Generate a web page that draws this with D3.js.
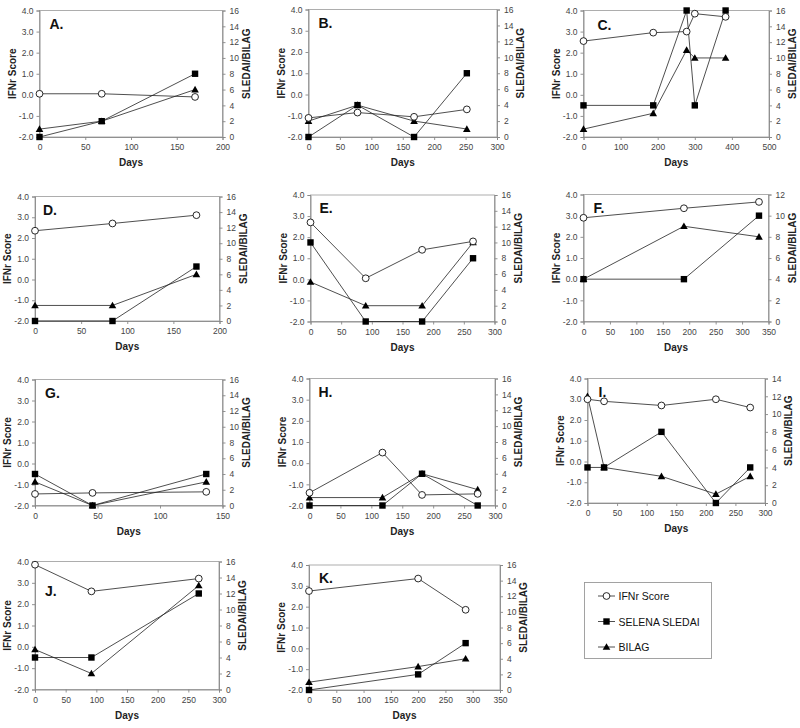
<!DOCTYPE html>
<html>
<head>
<meta charset="utf-8">
<script src="https://cdn.jsdelivr.net/npm/d3@7"></script>
<style>
  body { margin: 0; background: #fff; }
  svg { display: block; font-family: Arial, "Liberation Sans", sans-serif; }
</style>
</head>
<body>
<svg id="chart" width="800" height="728"></svg>
<script>
// ---- Data ----
const panelLetters = ["A.", "B.", "C.", "D.", "E.", "F.", "G.", "H.", "I.", "J.", "K."];
const seriesNames = ["IFNr Score", "SELENA SLEDAI", "BILAG"];

const daysA = [0, 68, 170];
const ifnA = [0.05, 0.05, -0.1];
const sledaiA = [0, 2, 8];
const bilagA = [1, 2, 6];

const daysB = [0, 78, 168, 252];
const ifnB = [-1.1, -0.85, -1.05, -0.7];
const sledaiB = [0, 4, 0, 8];
const bilagB = [2, 4, 2, 1];

const daysC = [0, 188, 278, 300, 383];
const ifnC = [2.55, 2.95, 3.0, 3.85, 3.7];
const sledaiC = [4, 4, 16, 4, 16];
const bilagC = [1, 3, 11, 10, 10];

const daysD = [0, 84, 175];
const ifnD = [2.35, 2.7, 3.1];
const sledaiD = [0, 0, 7];
const bilagD = [2, 2, 6];

const daysE = [0, 90, 182, 265];
const ifnE = [2.7, 0.05, 1.4, 1.8];
const sledaiE = [10, 0, 0, 8];
const bilagE = [5, 2, 2, 10];

const daysF = [0, 190, 332];
const ifnF = [2.9, 3.35, 3.65];
const sledaiF = [4, 4, 10];
const bilagF = [4, 9, 8];

const daysG = [0, 46, 137];
const ifnG = [-1.45, -1.4, -1.35];
const sledaiG = [4, 0, 4];
const bilagG = [3, 0, 3];

const daysH = [0, 118, 182, 272];
const ifnH = [-1.4, 0.5, -1.5, -1.45];
const sledaiH = [0, 0, 4, 0];
const bilagH = [1, 1, 4, 2];

const daysI = [0, 28, 125, 217, 275];
const ifnI = [3.0, 2.9, 2.7, 3.0, 2.6];
const sledaiI = [4, 4, 8, 0, 4];
const bilagI = [12, 4, 3, 1, 3];

const daysJ = [0, 92, 267];
const ifnJ = [3.85, 2.6, 3.2];
const sledaiJ = [4, 4, 12];
const bilagJ = [5, 2, 13];

const daysK = [0, 200, 287];
const ifnK = [2.75, 3.35, 1.85];
const sledaiK = [0, 2, 6];
const bilagK = [1, 3, 4];

// axis extents per panel
const xMaxes = [200, 300, 500, 200, 300, 350, 150, 300, 300, 300, 350];
const xSteps = [50, 50, 100, 50, 50, 50, 50, 50, 50, 50, 50];
const rightMaxes = [16, 16, 16, 16, 16, 12, 16, 16, 14, 16, 16];
const leftTicks = [-2, -1, 0, 1, 2, 3, 4];

const panelData = [
  [daysA, ifnA, sledaiA, bilagA],
  [daysB, ifnB, sledaiB, bilagB],
  [daysC, ifnC, sledaiC, bilagC],
  [daysD, ifnD, sledaiD, bilagD],
  [daysE, ifnE, sledaiE, bilagE],
  [daysF, ifnF, sledaiF, bilagF],
  [daysG, ifnG, sledaiG, bilagG],
  [daysH, ifnH, sledaiH, bilagH],
  [daysI, ifnI, sledaiI, bilagI],
  [daysJ, ifnJ, sledaiJ, bilagJ],
  [daysK, ifnK, sledaiK, bilagK]
];

// ---- Layout (plot boxes: x0, x1, y0(top), y1(bottom)) ----
const boxes = [
  [39.5, 222.5, 10.5, 137],
  [308.5, 497, 9.5, 137],
  [583.5, 769, 10.5, 137],
  [35, 219.5, 196.5, 321],
  [310.5, 494.5, 195, 321.5],
  [583.5, 768.5, 194.5, 321.5],
  [35, 222.5, 379.5, 505.5],
  [309.5, 495, 378.5, 505.5],
  [587.5, 765, 378.5, 503],
  [35, 219, 561.5, 689.5],
  [309, 500, 565, 690]
];
// panel letter offsets from the box's top-left corner
const letterOffsets = [
  [10, 18], [10, 18], [14, 19], [8, 18], [9, 18], [10, 18],
  [10, 18], [9, 18], [11, 18], [10, 34], [10, 18]
];

const svg = d3.select("#chart");
const lineColor = "#222";
const axisColor = "#888";
const tickTextColor = "#444";

function drawMarker(g, type, cx, cy) {
  if (type === 0) {
    g.append("circle").attr("cx", cx).attr("cy", cy).attr("r", 3.4)
      .attr("fill", "#fff").attr("stroke", "#111").attr("stroke-width", 0.9);
  } else if (type === 1) {
    g.append("rect").attr("x", cx - 3.2).attr("y", cy - 3.2).attr("width", 6.4).attr("height", 6.4)
      .attr("fill", "#000");
  } else {
    const s = 3.8;
    g.append("path")
      .attr("d", `M${cx},${cy - s} L${cx + s},${cy + s * 0.75} L${cx - s},${cy + s * 0.75} Z`)
      .attr("fill", "#000");
  }
}

panelData.forEach((pd, i) => {
  const [x0, x1, y0, y1] = boxes[i];
  const [days, ifn, sled, bil] = pd;
  const x = d3.scaleLinear().domain([0, xMaxes[i]]).range([x0, x1]);
  const yL = d3.scaleLinear().domain([-2, 4]).range([y1, y0]);
  const yR = d3.scaleLinear().domain([0, rightMaxes[i]]).range([y1, y0]);
  const g = svg.append("g");

  // frame
  g.append("rect").attr("x", x0).attr("y", y0).attr("width", x1 - x0).attr("height", y1 - y0)
    .attr("fill", "none").attr("stroke", "#999").attr("stroke-width", 0.8);

  // left axis
  const la = g.append("g").attr("transform", `translate(${x0},0)`)
    .call(d3.axisLeft(yL).tickValues(leftTicks).tickSize(3).tickPadding(3).tickFormat(v => v.toFixed(1)));
  // right axis
  const rTicks = d3.range(0, rightMaxes[i] + 1, 2);
  const ra = g.append("g").attr("transform", `translate(${x1},0)`)
    .call(d3.axisRight(yR).tickValues(rTicks).tickSize(3).tickPadding(4).tickFormat(d3.format("d")));
  // bottom axis
  const xTicks = d3.range(0, xMaxes[i] + 1, xSteps[i]);
  const ba = g.append("g").attr("transform", `translate(0,${y1})`)
    .call(d3.axisBottom(x).tickValues(xTicks).tickSize(3).tickPadding(4).tickFormat(d3.format("d")));

  [la, ra, ba].forEach(a => {
    a.select(".domain").attr("stroke", axisColor).attr("stroke-width", 0.9);
    a.selectAll(".tick line").attr("stroke", axisColor).attr("stroke-width", 0.9);
    a.selectAll(".tick text").attr("fill", tickTextColor).attr("font-size", 8.5)
      .attr("font-family", "Arial, 'Liberation Sans', sans-serif");
  });

  // axis titles
  g.append("text").attr("x", (x0 + x1) / 2).attr("y", y1 + 29).attr("text-anchor", "middle")
    .attr("font-size", 10).attr("font-weight", "bold").attr("fill", "#222").text("Days");
  g.append("text")
    .attr("transform", `translate(${x0 - 24},${(y0 + y1) / 2}) rotate(-90)`)
    .attr("text-anchor", "middle").attr("font-size", 10).attr("font-weight", "bold").attr("fill", "#222")
    .text("IFNr Score");
  g.append("text")
    .attr("transform", `translate(${x1 + 27},${(y0 + y1) / 2 - 10}) rotate(-90)`)
    .attr("text-anchor", "middle").attr("font-size", 10).attr("font-weight", "bold").attr("fill", "#222")
    .text("SLEDAI/BILAG");

  // panel letter
  g.append("text").attr("x", x0 + letterOffsets[i][0]).attr("y", y0 + letterOffsets[i][1])
    .attr("font-size", 14).attr("font-weight", "bold").attr("fill", "#111").text(panelLetters[i]);

  // series
  const series = [
    { vals: ifn, y: yL, type: 0 },
    { vals: sled, y: yR, type: 1 },
    { vals: bil, y: yR, type: 2 }
  ];
  series.forEach(s => {
    const line = d3.line().x((d, k) => x(days[k])).y(d => s.y(d));
    g.append("path").datum(s.vals).attr("d", line)
      .attr("fill", "none").attr("stroke", lineColor).attr("stroke-width", 0.8);
  });
  // markers drawn after lines: triangles, squares, circles
  [2, 1, 0].forEach(si => {
    const s = series[si];
    s.vals.forEach((v, k) => drawMarker(g, s.type, x(days[k]), s.y(v)));
  });
});

// ---- Legend ----
const lg = svg.append("g");
lg.append("rect").attr("x", 584.5).attr("y", 582.5).attr("width", 127).attr("height", 76)
  .attr("fill", "#fff").attr("stroke", "#999").attr("stroke-width", 0.9);
const legendY = d3.scalePoint().domain(seriesNames).range([596, 647]);
seriesNames.forEach((name, k) => {
  const yy = legendY(name);
  lg.append("line").attr("x1", 598).attr("x2", 615).attr("y1", yy).attr("y2", yy)
    .attr("stroke", lineColor).attr("stroke-width", 0.8);
  drawMarker(lg, k, 606.5, yy);
  lg.append("text").attr("x", 618.5).attr("y", yy + 4).attr("font-size", 10.5).attr("fill", "#111").text(name);
});
</script>
</body>
</html>
